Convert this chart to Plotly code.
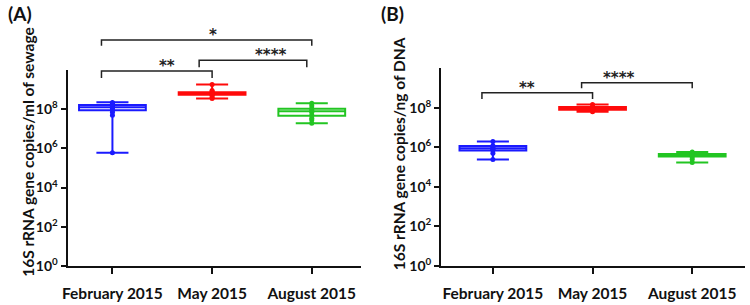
import plotly.graph_objects as go

# ---------------- data ----------------
categories = ["February 2015", "May 2015", "August 2015"]
colors = ["#1a1aff", "#ff0a0a", "#22c522"]

# Panel A: 16S rRNA gene copies / ml of sewage
a_min = [6.0e5, 3.5e8, 1.9e7]
a_q1 = [9.0e7, 5.5e8, 4.6e7]
a_med = [1.25e8, 6.3e8, 8.0e7]
a_q3 = [1.65e8, 7.4e8, 1.05e8]
a_max = [2.3e8, 1.85e9, 2.0e8]
a_points = [
    [2.2e8, 2.0e8, 1.8e8, 1.6e8, 1.4e8, 1.25e8, 1.1e8, 9.0e7, 7.0e7, 5.0e7, 6.0e5],
    [1.85e9, 9.0e8, 8.0e8, 7.0e8, 6.3e8, 6.0e8, 5.5e8, 5.0e8, 4.0e8, 3.5e8],
    [2.0e8, 1.5e8, 1.1e8, 9.0e7, 7.0e7, 5.0e7, 3.5e7, 2.8e7, 1.9e7],
]

# Panel B: 16S rRNA gene copies / ng of DNA
b_min = [2.4e5, 6.3e7, 1.7e5]
b_q1 = [6.8e5, 7.9e7, 3.4e5]
b_med = [9.0e5, 9.3e7, 4.0e5]
b_q3 = [1.15e6, 1.07e8, 4.6e5]
b_max = [1.95e6, 1.45e8, 5.8e5]
b_points = [
    [1.95e6, 1.2e6, 1.0e6, 9.0e5, 8.0e5, 7.0e5, 5.0e5, 2.4e5],
    [1.45e8, 1.1e8, 1.0e8, 9.3e7, 9.0e7, 8.0e7, 6.3e7],
    [5.8e5, 4.5e5, 4.0e5, 3.8e5, 3.2e5, 2.5e5, 1.7e5],
]

y_tickvals = [1, 1e2, 1e4, 1e6, 1e8]
y_ticktext = ["10<sup>0</sup>", "10<sup>2</sup>", "10<sup>4</sup>", "10<sup>6</sup>", "10<sup>8</sup>"]

# significance brackets: (x start, x end, y line (log10), y drop (log10), label)
a_brackets = [(-0.11, 1.0, 9.95, 9.6, "**"),
              (0.87, 1.95, 10.5, 10.15, "****"),
              (-0.11, 2.0, 11.54, 11.24, "*")]
b_brackets = [(-0.11, 1.0, 8.76, 8.44, "**"),
              (0.89, 2.0, 9.26, 8.98, "****")]

panel_labels = ["(A)", "(B)"]
y_titles = ["16S rRNA gene copies/ml of sewage", "16S rRNA gene copies/ng of DNA"]

# ---------------- layout geometry ----------------
W, H = 750, 305
FONT = "Lato, 'Open Sans', Arial, sans-serif"
STARFONT = "'DejaVu Sans', sans-serif"
dom_xa = [63 / W, 358 / W]
dom_ya = [1 - 273 / H, 1 - 72 / H]
dom_xb = [439 / W, 745 / W]
dom_yb = [1 - 273 / H, 1 - 70 / H]
xr_a = [-0.45, 2.49]
xr_b = [-0.52, 2.53]
yr = [0, 10]

fig = go.Figure()


def add_panel(stats, points, xaxis, yaxis):
    mn, q1, md, q3, mx = stats
    for i, cat in enumerate(categories):
        fig.add_trace(go.Box(
            x=[i], q1=[q1[i]], median=[md[i]], q3=[q3[i]],
            lowerfence=[mn[i]], upperfence=[mx[i]],
            width=0.67, whiskerwidth=0.48,
            line=dict(color=colors[i], width=2),
            fillcolor="rgba(255,255,255,0)",
            boxpoints=False, showlegend=False, hoverinfo="skip",
            xaxis=xaxis, yaxis=yaxis,
        ))
        fig.add_trace(go.Scatter(
            x=[i] * len(points[i]), y=points[i], mode="markers",
            marker=dict(color=colors[i], size=5, line=dict(width=0)),
            showlegend=False, hoverinfo="skip", xaxis=xaxis, yaxis=yaxis,
        ))


add_panel((a_min, a_q1, a_med, a_q3, a_max), a_points, "x", "y")
add_panel((b_min, b_q1, b_med, b_q3, b_max), b_points, "x2", "y2")


def to_paper(xv, yv, xdom, ydom, xr):
    px = xdom[0] + (xv - xr[0]) / (xr[1] - xr[0]) * (xdom[1] - xdom[0])
    py = ydom[0] + (yv - yr[0]) / (yr[1] - yr[0]) * (ydom[1] - ydom[0])
    return px, py


shapes = []
annotations = []


def add_brackets(brackets, xdom, ydom, xr):
    for x0, x1, yl, yd, lab in brackets:
        px0, pyl = to_paper(x0, yl, xdom, ydom, xr)
        px1, pyd = to_paper(x1, yd, xdom, ydom, xr)
        shapes.append(dict(type="path", xref="paper", yref="paper",
                           path=f"M {px0},{pyd} L {px0},{pyl} L {px1},{pyl} L {px1},{pyd}",
                           line=dict(color="#222222", width=1.5)))
        annotations.append(dict(x=(px0 + px1) / 2, y=pyl, xref="paper", yref="paper",
                                text=f"<b>{lab}</b>", showarrow=False, yanchor="bottom",
                                yshift=-6, font=dict(size=15, color="#222222", family=STARFONT)))


add_brackets(a_brackets, dom_xa, dom_ya, xr_a)
add_brackets(b_brackets, dom_xb, dom_yb, xr_b)

# panel labels
annotations.append(dict(x=1 / W, y=1, xref="paper", yref="paper", text="<b>(A)</b>",
                        showarrow=False, xanchor="left", yanchor="top",
                        font=dict(size=19, color="#111111", family=FONT)))
annotations.append(dict(x=377 / W, y=1, xref="paper", yref="paper", text="<b>(B)</b>",
                        showarrow=False, xanchor="left", yanchor="top",
                        font=dict(size=19, color="#111111", family=FONT)))
# y titles
annotations.append(dict(x=12 / W, y=1 - 156 / H, xref="paper", yref="paper",
                        text=f"<b>{y_titles[0]}</b>", textangle=-90, showarrow=False,
                        font=dict(size=15.5, color="#111111", family=FONT)))
annotations.append(dict(x=397 / W, y=1 - 158 / H, xref="paper", yref="paper",
                        text=f"<b>{y_titles[1]}</b>", textangle=-90, showarrow=False,
                        font=dict(size=15.5, color="#111111", family=FONT)))

xaxis_common = dict(tickmode="array", tickvals=[0, 1, 2], ticktext=[f"<b>{c}</b>" for c in categories],
                    showline=True, linecolor="#111111", linewidth=2, ticks="outside", ticklen=6,
                    tickwidth=2, tickcolor="#111111", showgrid=False, zeroline=False,
                    tickfont=dict(size=15.5, color="#111111", family=FONT), ticklabelstandoff=7,
                    fixedrange=True)
yaxis_common = dict(type="log", range=yr, tickmode="array", tickvals=y_tickvals,
                    ticktext=[f"<b>{t}</b>" for t in y_ticktext],
                    showline=True, linecolor="#111111", linewidth=2, ticks="outside", ticklen=5,
                    tickwidth=2, tickcolor="#111111", showgrid=False, zeroline=False,
                    tickfont=dict(size=14, color="#111111", family=FONT), fixedrange=True)

fig.update_layout(
    width=W, height=H, margin=dict(l=0, r=0, t=0, b=0),
    paper_bgcolor="white", plot_bgcolor="white",
    xaxis=dict(domain=dom_xa, range=xr_a, anchor="y", **xaxis_common),
    yaxis=dict(domain=dom_ya, anchor="x", **yaxis_common),
    xaxis2=dict(domain=dom_xb, range=xr_b, anchor="y2", **xaxis_common),
    yaxis2=dict(domain=dom_yb, anchor="x2", **yaxis_common),
    shapes=shapes, annotations=annotations,
)

fig.write_html("out.html", config={"displayModeBar": False},
               post_script="document.body.style.margin='0';")
